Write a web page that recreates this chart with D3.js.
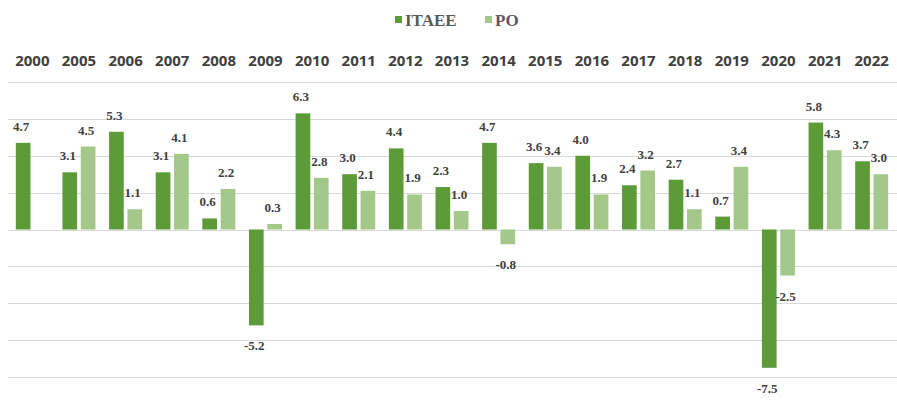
<!DOCTYPE html>
<html><head><meta charset="utf-8">
<script src="https://cdn.jsdelivr.net/npm/d3@7"></script>
<style>body{margin:0;background:#fff;}svg{display:block;}</style>
</head><body>
<svg id="c" width="897" height="408"></svg>
<script>
const years = ["2000","2005","2006","2007","2008","2009","2010","2011","2012","2013","2014","2015","2016","2017","2018","2019","2020","2021","2022"];
const itaee = [4.7,3.1,5.3,3.1,0.6,-5.2,6.3,3.0,4.4,2.3,4.7,3.6,4.0,2.4,2.7,0.7,-7.5,5.8,3.7];
const po = [null,4.5,1.1,4.1,2.2,0.3,2.8,2.1,1.9,1.0,-0.8,3.4,1.9,3.2,1.1,3.4,-2.5,4.3,3.0];
const seriesNames = ["ITAEE","PO"];
const colors = ["#5c9b38","#a3c88a"];
const yTicks = [-8,-6,-4,-2,0,2,4,6,8];

const svg = d3.select("#c");
const x = d3.scaleBand().domain(years).range([9,895]).paddingInner(0).paddingOuter(0);
const y = d3.scaleLinear().domain([-8,8]).range([377,82]);
const sub = d3.scaleBand().domain(seriesNames).range([-16.5,16.5]).paddingInner(0.2);
const serif = "'Liberation Serif', 'DejaVu Serif', serif";

// gridlines
svg.append("g").selectAll("line").data(yTicks).join("line")
  .attr("x1",8).attr("x2",897)
  .attr("y1",d=>Math.round(y(d))+0.5).attr("y2",d=>Math.round(y(d))+0.5)
  .attr("stroke","#d9d9d9").attr("stroke-width",1.2);

// category labels (top axis)
const xAxis = d3.axisTop(x).tickSize(0).tickPadding(0);
const ax = svg.append("g").attr("transform","translate(0,66)").call(xAxis);
ax.select(".domain").remove();
ax.selectAll("text").attr("font-family","'Open Sans', sans-serif").attr("font-weight","bold")
  .attr("font-size","15px").attr("fill","#404040");

const data = [];
years.forEach((yr,i)=>{
  [itaee[i],po[i]].forEach((v,j)=>{ if(v!==null) data.push({yr, s:seriesNames[j], v, c:colors[j]}); });
});

const cx = d=> x(d.yr)+x.bandwidth()/2 + sub(d.s);
svg.append("g").selectAll("rect").data(data).join("rect")
  .attr("x",cx).attr("width",sub.bandwidth())
  .attr("y",d=>y(Math.max(0,d.v))).attr("height",d=>Math.abs(y(d.v)-y(0)))
  .attr("fill",d=>d.c);

svg.append("g").selectAll("text").data(data).join("text")
  .attr("x",d=>cx(d)+sub.bandwidth()/2 - 2)
  .attr("y",d=> d.v>=0 ? y(d.v)-12 : y(d.v)+25)
  .attr("text-anchor","middle")
  .style("font-family",serif).attr("font-weight","bold")
  .attr("font-size","13px").attr("fill","#404040")
  .text(d=>d.v.toFixed(1));

// legend
const leg = svg.append("g");
const legX = [395,485];
seriesNames.forEach((n,i)=>{
  leg.append("rect").attr("x",legX[i]).attr("y",16).attr("width",7).attr("height",7).attr("fill",colors[i]);
  leg.append("text").attr("x",legX[i]+10).attr("y",26)
    .style("font-family",serif).attr("font-weight","bold")
    .attr("font-size","17px").attr("fill","#595959").text(n);
});
</script>
</body></html>
